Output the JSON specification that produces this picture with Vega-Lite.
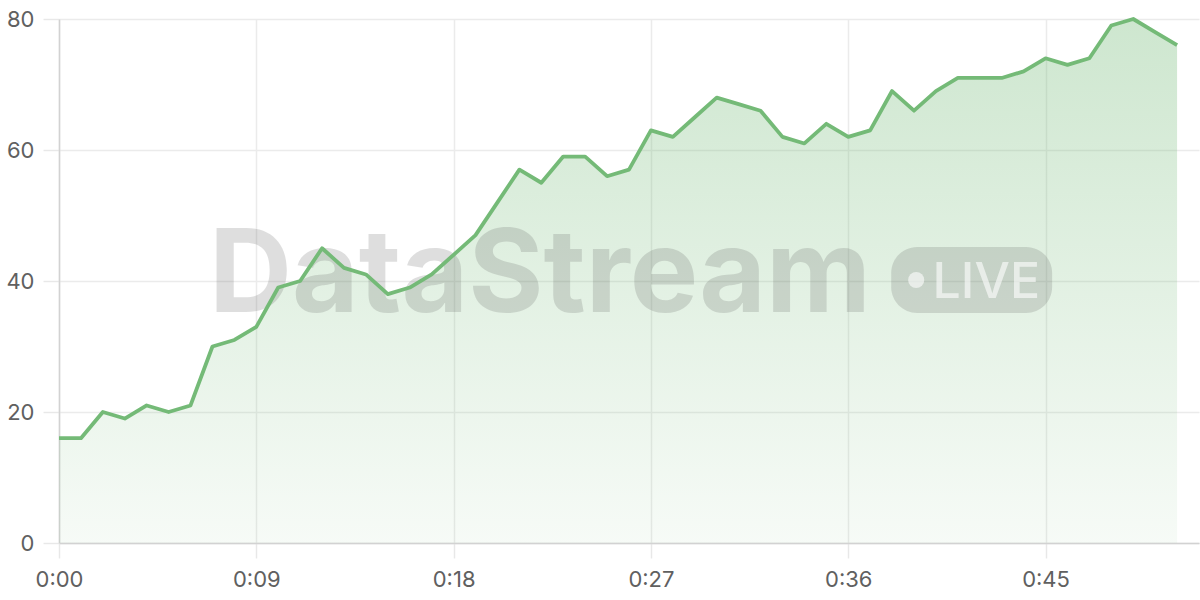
{
  "$schema": "https://vega.github.io/schema/vega-lite/v6.json",
  "width": 1140,
  "height": 524,
  "autosize": "none",
  "padding": {"left": 59, "top": 19, "right": 1, "bottom": 57},
  "background": "white",
  "config": {
    "view": {"stroke": null},
    "font": "Inter",
    "axis": {
      "labelFont": "Inter",
      "labelFontSize": 22,
      "labelColor": "#606060",
      "labelFlush": false,
      "gridColor": "#ebebeb",
      "gridWidth": 1.5,
      "tickColor": "#e8e8e8",
      "tickWidth": 1.5,
      "tickSize": 16,
      "domainColor": "#d2d2d2",
      "domainWidth": 1.5,
      "title": null
    }
  },
  "data": {
    "values": [
      {"t": 0, "v": 16}, {"t": 1, "v": 16}, {"t": 2, "v": 20}, {"t": 3, "v": 19},
      {"t": 4, "v": 21}, {"t": 5, "v": 20}, {"t": 6, "v": 21}, {"t": 7, "v": 30},
      {"t": 8, "v": 31}, {"t": 9, "v": 33}, {"t": 10, "v": 39}, {"t": 11, "v": 40},
      {"t": 12, "v": 45}, {"t": 13, "v": 42}, {"t": 14, "v": 41}, {"t": 15, "v": 38},
      {"t": 16, "v": 39}, {"t": 17, "v": 41}, {"t": 18, "v": 44}, {"t": 19, "v": 47},
      {"t": 20, "v": 52}, {"t": 21, "v": 57}, {"t": 22, "v": 55}, {"t": 23, "v": 59},
      {"t": 24, "v": 59}, {"t": 25, "v": 56}, {"t": 26, "v": 57}, {"t": 27, "v": 63},
      {"t": 28, "v": 62}, {"t": 29, "v": 65}, {"t": 30, "v": 68}, {"t": 31, "v": 67},
      {"t": 32, "v": 66}, {"t": 33, "v": 62}, {"t": 34, "v": 61}, {"t": 35, "v": 64},
      {"t": 36, "v": 62}, {"t": 37, "v": 63}, {"t": 38, "v": 69}, {"t": 39, "v": 66},
      {"t": 40, "v": 69}, {"t": 41, "v": 71}, {"t": 42, "v": 71}, {"t": 43, "v": 71},
      {"t": 44, "v": 72}, {"t": 45, "v": 74}, {"t": 46, "v": 73}, {"t": 47, "v": 74},
      {"t": 48, "v": 79}, {"t": 49, "v": 80}, {"t": 50, "v": 78}, {"t": 51, "v": 76}
    ]
  },
  "encoding": {
    "x": {
      "field": "t",
      "type": "quantitative",
      "scale": {"domain": [0, 52], "nice": false},
      "axis": {
        "values": [0, 9, 18, 27, 36, 45],
        "labelExpr": "'0:' + (datum.value < 10 ? '0' : '') + datum.value",
        "labelPadding": 11,
        "tickSize": 15
      }
    },
    "y": {
      "field": "v",
      "type": "quantitative",
      "scale": {"domain": [0, 80], "nice": false},
      "axis": {"values": [0, 20, 40, 60, 80], "labelPadding": 9}
    }
  },
  "layer": [
    {
      "mark": {
        "type": "area",
        "fill": {
          "gradient": "linear",
          "x1": 0, "y1": 0, "x2": 0, "y2": 1,
          "stops": [
            {"offset": 0, "color": "rgba(110,183,114,0.34)"},
            {"offset": 1, "color": "rgba(110,183,114,0.06)"}
          ]
        }
      }
    },
    {
      "transform": [{"filter": "datum.t == 0"}],
      "mark": {"type": "rect", "fill": "#505050", "opacity": 0.18, "cornerRadius": 26},
      "encoding": {
        "x": {"datum": 37.96},
        "x2": {"datum": 45.3},
        "y": {"datum": 45.2},
        "y2": {"datum": 35.1}
      }
    },
    {
      "transform": [{"filter": "datum.t == 0"}],
      "mark": {
        "type": "text",
        "text": "DataStream",
        "font": "Inter",
        "fontWeight": 700,
        "fontSize": 115,
        "fill": "#505050",
        "opacity": 0.18,
        "align": "center",
        "baseline": "alphabetic"
      },
      "encoding": {"x": {"datum": 21.94}, "y": {"datum": 35.3}}
    },
    {
      "transform": [{"filter": "datum.t == 0"}],
      "mark": {"type": "point", "filled": true, "fill": "white", "opacity": 0.6, "strokeWidth": 0, "size": 260, "shape": "circle"},
      "encoding": {"x": {"datum": 39.1}, "y": {"datum": 40.15}}
    },
    {
      "transform": [{"filter": "datum.t == 0"}],
      "mark": {
        "type": "text",
        "text": "LIVE",
        "font": "Inter",
        "fontWeight": 500,
        "fontSize": 50,
        "fill": "white",
        "opacity": 0.6,
        "align": "center",
        "baseline": "alphabetic"
      },
      "encoding": {"x": {"datum": 42.3}, "y": {"datum": 37.4}}
    },
    {
      "mark": {"type": "line", "color": "#74ba77", "strokeWidth": 3.8, "strokeJoin": "round"}
    }
  ]
}
